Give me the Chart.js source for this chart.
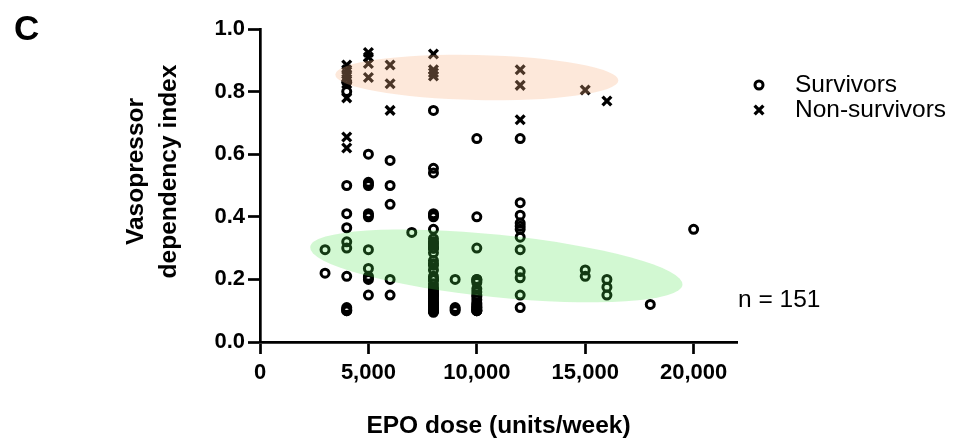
<!DOCTYPE html>
<html>
<head>
<meta charset="utf-8">
<script src="https://cdn.jsdelivr.net/npm/chart.js@4/dist/chart.umd.min.js"></script>
<style>
html,body{margin:0;padding:0;background:#fff;}
#wrap{width:959px;height:443px;position:relative;}
</style>
</head>
<body>
<div id="wrap"><canvas id="c" width="959" height="443"></canvas></div>
<script>
// ---------- data ----------
const seriesLabels = ['Survivors', 'Non-survivors'];
const panelLabel = 'C';
const sampleNote = 'n = 151';
const xTitle = 'EPO dose (units/week)';
const yTitle = ['Vasopressor', 'dependency index'];
const xTickValues = [0, 5000, 10000, 15000, 20000];
const yTickValues = [0, 0.2, 0.4, 0.6, 0.8, 1.0];

// Survivors: EPO dose groups and vasopressor dependency index of each patient
const survivorDoses = [3000, 4000, 5000, 6000, 7000, 8000, 9000, 10000, 12000, 15000, 16000, 18000, 20000];
const survivorIndex = [
  [0.295, 0.22],
  [0.83, 0.80, 0.50, 0.41, 0.365, 0.32, 0.30, 0.21, 0.11, 0.105, 0.10, 0.10],
  [0.60, 0.51, 0.505, 0.50, 0.41, 0.405, 0.40, 0.295, 0.235, 0.21, 0.205, 0.20, 0.15],
  [0.58, 0.50, 0.44, 0.20, 0.15],
  [0.35],
  [0.74, 0.555, 0.54, 0.41, 0.405, 0.40, 0.36, 0.33, 0.32, 0.315, 0.31, 0.30, 0.30, 0.30, 0.285,
   0.26, 0.25, 0.245, 0.23, 0.21, 0.20, 0.20, 0.20, 0.185, 0.175, 0.17, 0.165, 0.16, 0.155,
   0.15, 0.15, 0.15, 0.145, 0.14, 0.135, 0.13, 0.125, 0.12, 0.12, 0.12, 0.115, 0.11, 0.11, 0.11,
   0.105, 0.10, 0.10, 0.10, 0.10, 0.095],
  [0.20, 0.11, 0.105, 0.10],
  [0.65, 0.40, 0.30, 0.20, 0.20, 0.195, 0.19, 0.17, 0.16, 0.15, 0.145, 0.135, 0.125, 0.12, 0.115,
   0.11, 0.11, 0.105, 0.10, 0.10, 0.10],
  [0.65, 0.445, 0.405, 0.38, 0.37, 0.36, 0.335, 0.295, 0.225, 0.205, 0.15, 0.11],
  [0.23, 0.21],
  [0.20, 0.175, 0.15],
  [0.12],
  [0.36]
];

// Non-survivors
const nonSurvivorDoses = [4000, 5000, 6000, 8000, 12000, 15000, 16000];
const nonSurvivorIndex = [
  [0.885, 0.87, 0.855, 0.84, 0.825, 0.78, 0.655, 0.62],
  [0.925, 0.91, 0.89, 0.845],
  [0.885, 0.825, 0.74],
  [0.92, 0.87, 0.86, 0.85],
  [0.87, 0.82, 0.71],
  [0.805],
  [0.77]
];

// Highlight ellipses (in data units): centre and half extents
const ellipseCenterDose = [10000, 10900];
const ellipseCenterIndex = [0.845, 0.243];
const ellipseHalfDose = [6530, 8630];
const ellipseHalfIndex = [0.072, 0.10];

// ---------- build ----------
function toPoints(doses, groups) {
  const pts = [];
  doses.forEach((d, i) => groups[i].forEach(v => pts.push({x: d, y: v})));
  return pts;
}

const FONT = "'Liberation Sans', Arial, Helvetica, sans-serif";
const ELLIPSE_STYLE = [
  {fill: 'rgba(248,179,132,0.30)', angleDeg: 1.2},
  {fill: 'rgba(76,228,76,0.25)', angleDeg: 5.8}
];
const CIRCLE_STYLE = {pointStyle: 'circle', radius: 4, borderWidth: 3};
const CROSS_STYLE = {pointStyle: 'crossRot', radius: 6.2, borderWidth: 3.3};

const overlayPlugin = {
  id: 'overlay',
  afterDatasetsDraw(chart) {
    const {ctx, scales: {x, y}} = chart;
    ctx.save();
    for (let i = 0; i < ellipseCenterDose.length; i++) {
      const cx = x.getPixelForValue(ellipseCenterDose[i]);
      const cy = y.getPixelForValue(ellipseCenterIndex[i]);
      const rx = Math.abs(x.getPixelForValue(ellipseCenterDose[i] + ellipseHalfDose[i]) - cx);
      const ry = Math.abs(y.getPixelForValue(ellipseCenterIndex[i] + ellipseHalfIndex[i]) - cy);
      ctx.beginPath();
      ctx.ellipse(cx, cy, rx, ry, ELLIPSE_STYLE[i].angleDeg * Math.PI / 180, 0, Math.PI * 2);
      ctx.fillStyle = ELLIPSE_STYLE[i].fill;
      ctx.fill();
    }
    ctx.restore();
  },
  afterDraw(chart) {
    const ctx = chart.ctx;
    const area = chart.chartArea;
    ctx.save();
    ctx.fillStyle = '#000';
    ctx.textBaseline = 'middle';
    // panel label
    ctx.font = 'bold 35px ' + FONT;
    ctx.textAlign = 'left';
    ctx.fillText(panelLabel, 14, 30);
    // y-axis title (two lines, rotated)
    ctx.save();
    ctx.font = 'bold 24.5px ' + FONT;
    ctx.textAlign = 'center';
    ctx.translate(136, (area.top + area.bottom) / 2 - 14);
    ctx.rotate(-Math.PI / 2);
    yTitle.forEach((t, i) => ctx.fillText(t, 0, i * 33));
    ctx.restore();
    // legend
    const styles = [CIRCLE_STYLE, CROSS_STYLE];
    const ys = [85, 110];
    ctx.textAlign = 'left';
    ctx.font = '24.5px ' + FONT;
    for (let i = 0; i < seriesLabels.length; i++) {
      ctx.strokeStyle = '#000';
      ctx.fillStyle = 'rgba(0,0,0,0)';
      ctx.lineWidth = styles[i].borderWidth;
      Chart.helpers.drawPoint(ctx, {pointStyle: styles[i].pointStyle, radius: styles[i].radius,
        borderWidth: styles[i].borderWidth, rotation: 0}, 759, ys[i]);
      ctx.fillStyle = '#000';
      ctx.fillText(seriesLabels[i], 795, ys[i]);
    }
    // sample size
    ctx.fillText(sampleNote, 738, 300);
    ctx.restore();
  }
};

new Chart(document.getElementById('c'), {
  type: 'scatter',
  data: {
    datasets: [
      {
        label: seriesLabels[0],
        data: toPoints(survivorDoses, survivorIndex),
        pointStyle: CIRCLE_STYLE.pointStyle,
        pointRadius: CIRCLE_STYLE.radius,
        pointBorderWidth: CIRCLE_STYLE.borderWidth,
        pointBorderColor: '#000',
        pointBackgroundColor: 'rgba(0,0,0,0)'
      },
      {
        label: seriesLabels[1],
        data: toPoints(nonSurvivorDoses, nonSurvivorIndex),
        pointStyle: CROSS_STYLE.pointStyle,
        pointRadius: CROSS_STYLE.radius,
        pointBorderWidth: CROSS_STYLE.borderWidth,
        pointBorderColor: '#000',
        pointBackgroundColor: 'rgba(0,0,0,0)'
      }
    ]
  },
  options: {
    responsive: false,
    animation: false,
    devicePixelRatio: 1,
    layout: {padding: {left: 0, top: 29, right: 222, bottom: 0}},
    plugins: {legend: {display: false}, tooltip: {enabled: false}},
    scales: {
      x: {
        type: 'linear',
        min: 0,
        max: 22000,
        afterFit: s => { s.height = 101; },
        afterBuildTicks: s => { s.ticks = xTickValues.map(v => ({value: v})); },
        ticks: {
          color: '#000',
          font: {family: FONT, size: 22, weight: 'bold'},
          padding: 6,
          maxRotation: 0,
          callback: v => Number(v).toLocaleString('en-US')
        },
        grid: {drawOnChartArea: false, drawTicks: true, tickLength: 12, tickWidth: 2.7, tickColor: '#000'},
        border: {color: '#000', width: 2.7},
        title: {display: true, text: xTitle, color: '#000',
          font: {family: FONT, size: 24.5, weight: 'bold', lineHeight: 1.2}, padding: {top: 0, bottom: 2}}
      },
      y: {
        type: 'linear',
        min: 0,
        max: 1,
        afterFit: s => { s.width = 260; },
        afterBuildTicks: s => { s.ticks = yTickValues.map(v => ({value: v})); },
        ticks: {
          color: '#000',
          font: {family: FONT, size: 22, weight: 'bold'},
          padding: 3,
          callback: v => Number(v).toFixed(1)
        },
        grid: {drawOnChartArea: false, drawTicks: true, tickLength: 12, tickWidth: 2.7, tickColor: '#000'},
        border: {color: '#000', width: 2.7},
        title: {display: false}
      }
    }
  },
  plugins: [overlayPlugin]
});
</script>
</body>
</html>
